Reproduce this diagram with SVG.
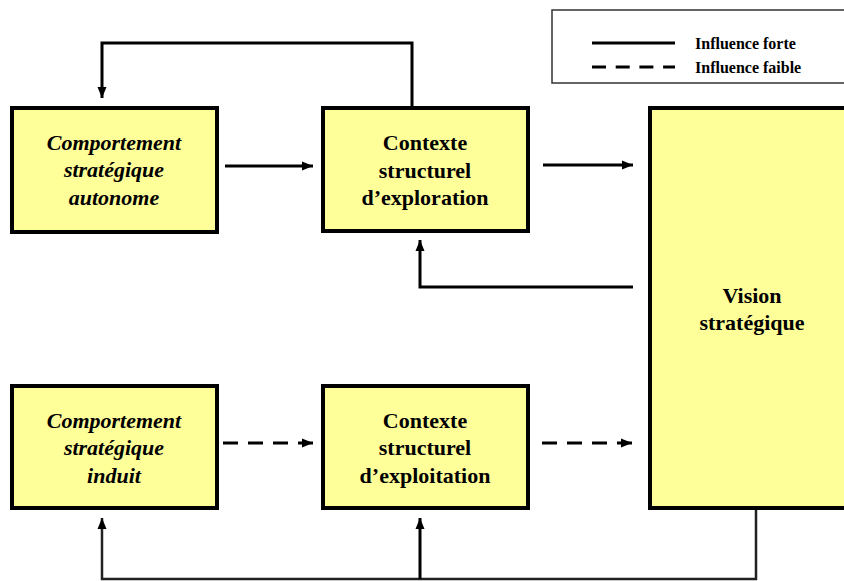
<svg xmlns="http://www.w3.org/2000/svg" width="844" height="581" viewBox="0 0 844 581">
<style>
.box{fill:#FFFF99;stroke:#000;stroke-width:4}
.t{font-family:"Liberation Serif","Times New Roman",serif;font-weight:bold;font-size:22px;text-anchor:middle;fill:#000}
.i{font-style:italic}
.lg{font-family:"Liberation Serif","Times New Roman",serif;font-weight:bold;font-size:16px;fill:#000}
.c{fill:none;stroke:#000;stroke-width:3}
.d{stroke-dasharray:15 10}
.thin{fill:none;stroke:#222;stroke-width:2.5}
</style>
<defs>
<marker id="ah" markerUnits="userSpaceOnUse" markerWidth="12" markerHeight="12" viewBox="0 0 12 12" refX="11" refY="6" orient="auto">
<path d="M0,1.5 L11,6 L0,10.5 Z" fill="#000"/>
</marker>
</defs>
<rect x="0" y="0" width="844" height="581" fill="#fff"/>
<g id="legend">
<rect x="552" y="10" width="300" height="73" fill="#fff" stroke="#333" stroke-width="1.5"/>
<line x1="592" y1="43" x2="675" y2="43" stroke="#000" stroke-width="3"/>
<line x1="592" y1="67" x2="675" y2="67" stroke="#000" stroke-width="3" stroke-dasharray="14 9.7"/>
<text class="lg" x="695" y="49">Influence forte</text>
<text class="lg" x="695" y="73">Influence faible</text>
</g>
<g id="connectors">
<line class="c" x1="225" y1="166" x2="313" y2="166" marker-end="url(#ah)"/>
<line class="c" x1="543" y1="165" x2="633" y2="165" marker-end="url(#ah)"/>
<polyline class="c" points="412,108 412,43 102,43 102,98" marker-end="url(#ah)"/>
<polyline class="c" points="633,287 420,287 420,240" marker-end="url(#ah)"/>
<line class="c d" x1="223" y1="443" x2="313" y2="443" marker-end="url(#ah)"/>
<line class="c d" x1="542" y1="443" x2="632" y2="443" marker-end="url(#ah)"/>
<polyline class="thin" points="756,508 756,579 102,579 102,518" marker-end="url(#ah)"/>
<line class="c" x1="420" y1="579" x2="420" y2="518" marker-end="url(#ah)"/>
</g>
<g id="n-autonome">
<rect class="box" x="12" y="108" width="205" height="124"/>
<text class="t i" x="114" y="150">Comportement</text>
<text class="t i" x="114" y="177">stratégique</text>
<text class="t i" x="114" y="205">autonome</text>
</g>
<g id="n-exploration">
<rect class="box" x="323" y="108" width="205" height="123"/>
<text class="t" x="425" y="150">Contexte</text>
<text class="t" x="425" y="178">structurel</text>
<text class="t" x="425" y="205">d’exploration</text>
</g>
<g id="n-induit">
<rect class="box" x="12" y="386" width="205" height="122"/>
<text class="t i" x="114" y="428">Comportement</text>
<text class="t i" x="114" y="455">stratégique</text>
<text class="t i" x="114" y="483">induit</text>
</g>
<g id="n-exploitation">
<rect class="box" x="323" y="386" width="205" height="122"/>
<text class="t" x="425" y="428">Contexte</text>
<text class="t" x="425" y="455">structurel</text>
<text class="t" x="425" y="483">d’exploitation</text>
</g>
<g id="n-vision">
<rect class="box" x="650" y="108" width="210" height="400"/>
<text class="t" x="752" y="303">Vision</text>
<text class="t" x="752" y="330">stratégique</text>
</g>
</svg>
